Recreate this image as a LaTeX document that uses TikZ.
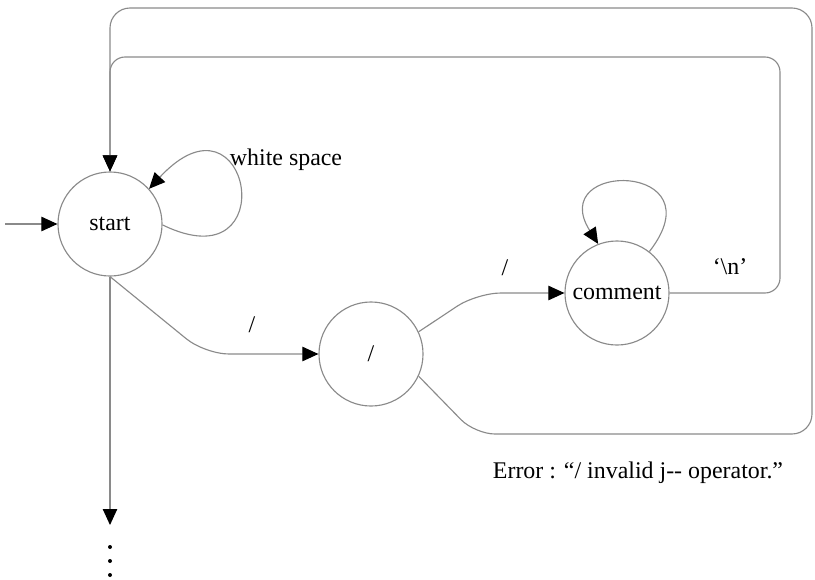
\documentclass[tikz,border=0pt]{standalone}
\usepackage{fontspec}
\setmainfont{Liberation Serif}
\usetikzlibrary{arrows.meta}
\definecolor{linegray}{HTML}{8A8A8A}
\tikzset{> = {Triangle[length = 0.4cm, width = 0.36cm, color = black]}}
\tikzset{state/.style = {draw = linegray, circle, minimum size = 2.6cm, inner sep = 0pt}}
\tikzset{flow/.style = {->, draw = linegray}}

\begin{document}
\begin{tikzpicture}[x = 0.025cm, y = 0.025cm, font = \fontsize{17}{20}\selectfont, line width = 0.8pt]
		\useasboundingbox (0, 0) rectangle (815, -579);
		\node [state] (start) at (110, -224) {start};
		\node [state] (slash) at (371, -354) {/};
		\node [state] (comment) at (617, -293) {comment};
		\coordinate (in) at (5, -224);
		\coordinate (down) at (110, -525);

		\draw [flow] (in) -- (start);
		\draw [flow] (start.south) -- (down);
		\draw [flow] (start.-1) .. controls +(123, -60) and +(101, 109) .. (start.42);
		\draw [flow, rounded corners = 0.6cm] (start.south) -- (205, -354) -- (slash.west);
		\draw [flow, rounded corners = 0.6cm] (slash.25) -- (477, -293) -- (comment.west);
		\draw [flow] (comment.52) .. controls +(70, 90) and +(-53, 84) .. (comment.111);
		\draw [flow, rounded corners = 0.375cm] (comment.east) -- (780, -293) -- (780, -57) -- (110, -57) -- (start.north);
		\draw [flow, rounded corners = 0.5cm] (slash.-25) -- (475, -434) -- (812, -434) -- (812, -8) -- (110, -8) -- (start.north);

		\node (ws) at (286, -160) {white space};
		\node (s1) at (252, -325) {/};
		\node (s2) at (505, -268) {/};
		\node (nl) at (730, -267) {‘\textbackslash n’};
		\node (err) at (638, -473) {Error : “/ invalid j-{}- operator.”};

		\foreach \y in {547, 561, 575}
			\fill (110, -\y) circle [radius = 2];
	\end{tikzpicture}
\end{document}
